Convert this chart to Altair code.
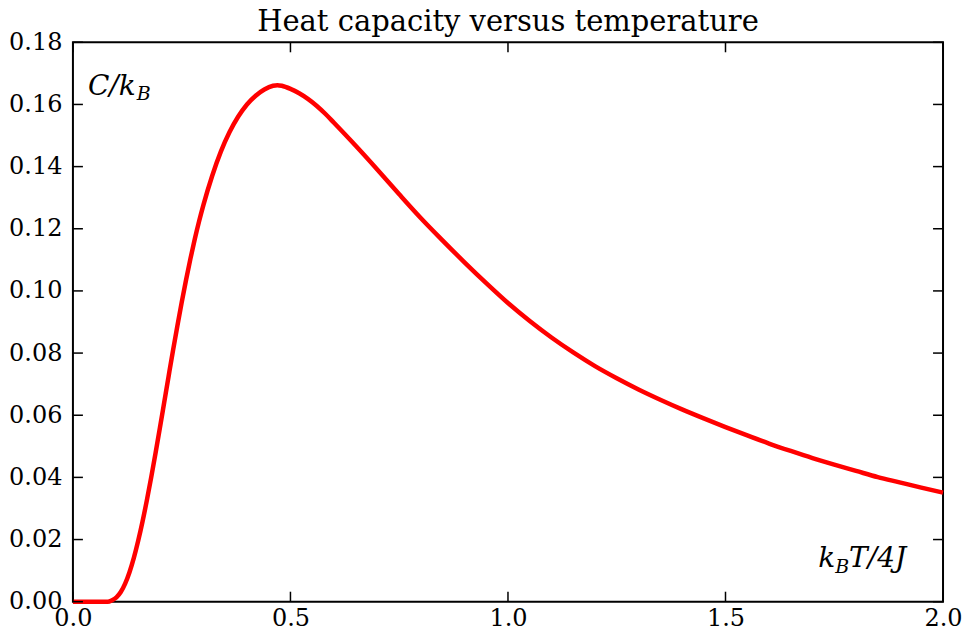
import altair as alt
import pandas as pd

# Data
x_vals = [0.00, 0.04, 0.08, 0.09, 0.10, 0.11, 0.12, 0.13, 0.14, 0.15, 0.16, 0.17,
          0.18, 0.19, 0.20, 0.21, 0.22, 0.23, 0.24, 0.25, 0.26, 0.27, 0.28, 0.29,
          0.30, 0.32, 0.34, 0.36, 0.38, 0.40, 0.42, 0.44, 0.46, 0.47, 0.48, 0.50,
          0.52, 0.54, 0.56, 0.58, 0.60, 0.65, 0.70, 0.75, 0.80, 0.85, 0.90, 0.95,
          1.00, 1.05, 1.10, 1.15, 1.20, 1.25, 1.30, 1.35, 1.40, 1.45, 1.50, 1.55,
          1.60, 1.65, 1.70, 1.75, 1.80, 1.85, 1.90, 1.95, 2.00]
c_vals = [0.0, 0.0, 0.0000, 0.0005, 0.0014, 0.0031, 0.0058, 0.0095, 0.0141, 0.0196,
          0.0258, 0.0327, 0.0401, 0.0479, 0.0560, 0.0643, 0.0726, 0.0808, 0.0887,
          0.0963, 0.1035, 0.1103, 0.1166, 0.1224, 0.1277, 0.1370, 0.1448, 0.1511,
          0.1561, 0.1600, 0.1628, 0.1648, 0.1660, 0.1662, 0.1660, 0.1650, 0.1636,
          0.1618, 0.1596, 0.1570, 0.1541, 0.1467, 0.1390, 0.1311, 0.1234, 0.1162,
          0.1092, 0.1025, 0.0961, 0.0903, 0.0850, 0.0802, 0.0758, 0.0719, 0.0683,
          0.0650, 0.0619, 0.0590, 0.0562, 0.0535, 0.0509, 0.0485, 0.0462, 0.0441,
          0.0421, 0.0401, 0.0384, 0.0367, 0.0351]
x_ticks = [0.0, 0.5, 1.0, 1.5, 2.0]
y_ticks = [0.00, 0.02, 0.04, 0.06, 0.08, 0.10, 0.12, 0.14, 0.16, 0.18]

title_text = "Heat capacity versus temperature"

W, H = 871, 560
FONT = "DejaVu Serif"
TICK = 10

df = pd.DataFrame({"t": x_vals, "c": c_vals})
xt = pd.DataFrame({"v": x_ticks})
yt = pd.DataFrame({"v": y_ticks})

xs = alt.Scale(domain=[0, 2], nice=False, zero=False)
ys = alt.Scale(domain=[0, 0.18], nice=False, zero=False)

axis_common = dict(ticks=False, domain=False, grid=False, labelFont=FONT,
                   labelFontSize=24, labelColor="black", labelFlush=False,
                   labelOverlap=False)
x_axis = alt.Axis(values=x_ticks, format=".1f", labelPadding=5, **axis_common)
y_axis = alt.Axis(values=y_ticks, format=".2f", labelPadding=11, **axis_common)


def xenc(field):
    return alt.X(field, type="quantitative", scale=xs, title=None, axis=x_axis)


def yenc(field):
    return alt.Y(field, type="quantitative", scale=ys, title=None, axis=y_axis)


line = alt.Chart(df).mark_line(color="#ff0000", strokeWidth=4.5,
                               interpolate="monotone").encode(
    x=xenc("t"), y=yenc("c"))

rule_style = dict(color="black", strokeWidth=1.5)
left = alt.Chart(yt).mark_rule(**rule_style).encode(
    y=yenc("v"), x=alt.value(0), x2=alt.value(TICK))
right = alt.Chart(yt).mark_rule(**rule_style).encode(
    y=yenc("v"), x=alt.value(W - TICK), x2=alt.value(W))
bottom = alt.Chart(xt).mark_rule(**rule_style).encode(
    x=xenc("v"), y=alt.value(H - TICK), y2=alt.value(H))
top = alt.Chart(xt).mark_rule(**rule_style).encode(
    x=xenc("v"), y=alt.value(0), y2=alt.value(TICK))


def label(s, x, y, size):
    return alt.Chart(pd.DataFrame({"s": [s]})).mark_text(
        font=FONT, fontStyle="italic", fontSize=size, align="left",
        baseline="alphabetic", color="black").encode(
        text="s:N", x=alt.value(x), y=alt.value(y))


texts = [
    label("C/k", 15, 53, 28),
    label("B", 64, 58, 19),
    label("k", 746, 525, 28),
    label("B", 763, 531, 19),
    label("T/4J", 777, 525, 28),
]

chart = alt.layer(line, left, right, top, bottom, *texts).properties(
    width=W, height=H,
    title=alt.TitleParams(title_text, font=FONT, fontSize=29, fontWeight="normal",
                          color="black", anchor="middle", offset=-7),
    padding={"left": 0, "top": 0, "right": 0, "bottom": 0},
).configure_view(stroke="black", strokeWidth=2)

chart.save("out.html", embed_options={"renderer": "svg", "actions": False})
